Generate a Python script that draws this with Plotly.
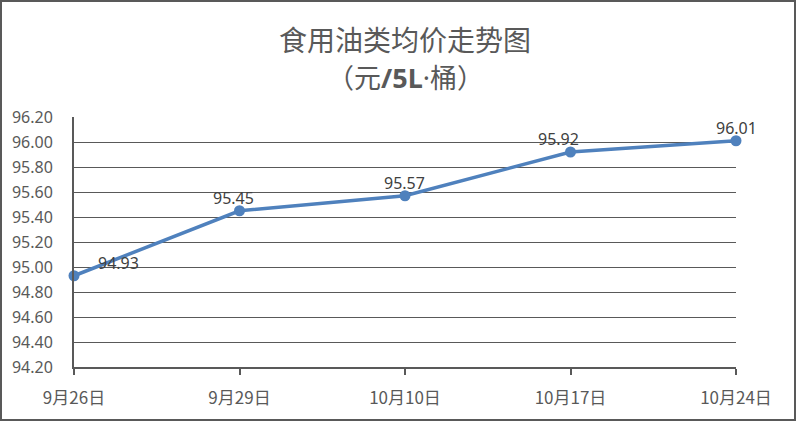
import plotly.graph_objects as go

categories = ["9月26日", "9月29日", "10月10日", "10月17日", "10月24日"]
prices = [94.93, 95.45, 95.57, 95.92, 96.01]
title_line1 = "食用油类均价走势图"
title_line2 = "（元<b>/5L</b>·桶）"

W, H = 796, 421
ml, mr, mt, mb = 74, 60, 117, 54
pw, ph = W - ml - mr, H - mt - mb

FONT = "Noto Sans, Noto Sans CJK SC, sans-serif"
CJK = "Noto Sans CJK SC, Noto Sans, sans-serif"
GRAY = "#595959"
BLUE = "#4F81BD"

fig = go.Figure()
fig.add_trace(go.Scatter(
    x=categories, y=prices, mode="lines+markers",
    line=dict(color=BLUE, width=3.5),
    marker=dict(color=BLUE, size=11),
    cliponaxis=False, hoverinfo="skip", showlegend=False,
))

# data labels
xshifts = [44, -6, -1, -12, 0]
for c, v, xs in zip(categories, prices, xshifts):
    fig.add_annotation(x=c, y=v, text=f"{v:.2f}", showarrow=False,
                       xshift=xs, yshift=13, font=dict(size=16, color="#404040", family=FONT))

fig.add_annotation(xref="paper", yref="paper", x=0.5, y=1 + (mt - 39) / ph,
                   text=title_line1, showarrow=False, yanchor="middle",
                   font=dict(size=28, color=GRAY, family=CJK))
fig.add_annotation(xref="paper", yref="paper", x=0.5, y=1 + (mt - 77) / ph,
                   text=title_line2, showarrow=False, yanchor="middle",
                   font=dict(size=27, color=GRAY, family=FONT))

# outer border
fig.add_shape(type="rect", xref="paper", yref="paper",
              x0=-(ml - 1) / pw, x1=1 + (mr - 1) / pw,
              y0=-(mb - 1) / ph, y1=1 + (mt - 1) / ph,
              line=dict(color=GRAY, width=2), layer="below")

fig.update_layout(
    width=W, height=H,
    margin=dict(l=ml, r=mr, t=mt, b=mb, pad=0),
    paper_bgcolor="white", plot_bgcolor="white",
    xaxis=dict(type="category", range=[0, len(categories) - 1],
               showline=True, linecolor=GRAY, linewidth=2,
               ticks="outside", ticklen=6, tickcolor=GRAY, tickwidth=1.5,
               showgrid=False, zeroline=False,
               tickfont=dict(size=17, color=GRAY, family=CJK),
               ticklabelstandoff=9),
    yaxis=dict(range=[94.2, 96.2], dtick=0.2, tick0=94.2, tickformat=".2f",
               showline=True, linecolor=GRAY, linewidth=2,
               showgrid=True, gridcolor=GRAY, gridwidth=1,
               zeroline=False, ticks="",
               tickfont=dict(size=16, color=GRAY, family=FONT),
               ticklabelstandoff=16),
)

fig.write_html("out.html", config={"displayModeBar": False},
               post_script="document.body.style.margin='0';")
